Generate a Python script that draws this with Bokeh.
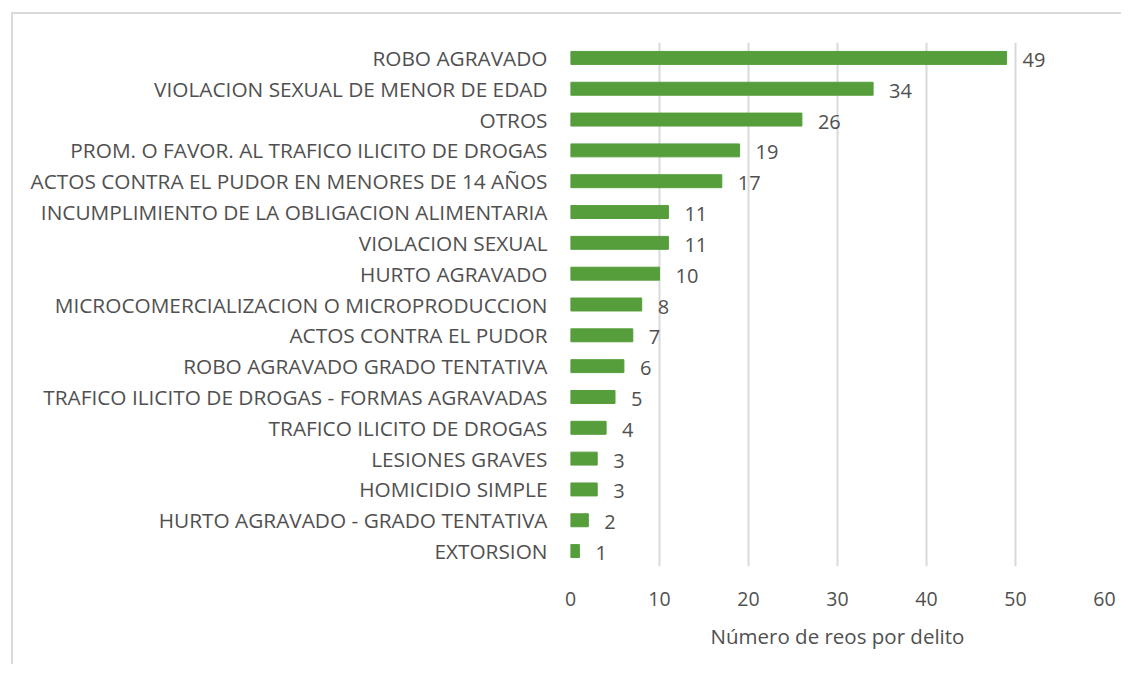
from bokeh.plotting import figure
from bokeh.models import ColumnDataSource, FixedTicker, LabelSet
from bokeh.core.properties import value
from bokeh.embed import file_html
from bokeh.resources import INLINE

categories = ["ROBO AGRAVADO", "VIOLACION SEXUAL DE MENOR DE EDAD", "OTROS",
              "PROM. O FAVOR. AL TRAFICO ILICITO DE DROGAS",
              "ACTOS CONTRA EL PUDOR EN MENORES DE 14 AÑOS",
              "INCUMPLIMIENTO DE LA OBLIGACION ALIMENTARIA",
              "VIOLACION SEXUAL", "HURTO AGRAVADO",
              "MICROCOMERCIALIZACION O MICROPRODUCCION",
              "ACTOS CONTRA EL PUDOR", "ROBO AGRAVADO GRADO TENTATIVA",
              "TRAFICO ILICITO DE DROGAS - FORMAS AGRAVADAS",
              "TRAFICO ILICITO DE DROGAS", "LESIONES GRAVES",
              "HOMICIDIO SIMPLE", "HURTO AGRAVADO - GRADO TENTATIVA", "EXTORSION"]
values = [49, 34, 26, 19, 17, 11, 11, 10, 8, 7, 6, 5, 4, 3, 3, 2, 1]
x_ticks = [0, 10, 20, 30, 40, 50, 60]
x_title = "Número de reos por delito"

FONT = "Open Sans"
GREY = "#505050"

src = ColumnDataSource(dict(cat=categories, val=values,
                            lab=[str(v) for v in values]))

p = figure(width=1110, height=652, y_range=list(reversed(categories)),
           x_range=(0, 60), output_backend="svg", toolbar_location=None,
           min_border_left=557, min_border_right=19, min_border_top=28,
           min_border_bottom=100)
p.styles = {"margin-left": "11px", "margin-top": "12px",
            "border-left": "2px solid #D9D9D9", "border-top": "2px solid #D9D9D9"}
p.outline_line_color = None
p.hbar(y="cat", right="val", height=0.42, source=src, color="#559E3B")

labels = LabelSet(x="val", y="cat", text="lab", source=src, x_offset=16,
                  y_offset=-2, text_align="left", text_baseline="middle",
                  text_font=value(FONT), text_font_size="20px", text_color=GREY)
p.add_layout(labels)

p.xaxis.ticker = FixedTicker(ticks=x_ticks)
p.xaxis.axis_label = x_title
p.xaxis.axis_label_text_font = FONT
p.xaxis.axis_label_text_font_size = "20.5px"
p.xaxis.axis_label_text_font_style = "normal"
p.xaxis.axis_label_text_color = GREY
p.xaxis.axis_label_standoff = 13
p.xaxis.major_label_standoff = 19
for ax in (p.xaxis, p.yaxis):
    ax.axis_line_color = None
    ax.major_tick_line_color = None
    ax.minor_tick_line_color = None
    ax.major_label_text_font = FONT
    ax.major_label_text_color = GREY
p.xaxis.major_label_text_font_size = "19.5px"
p.yaxis.major_label_text_font_size = "20.8px"
p.yaxis.major_label_standoff = 17
p.ygrid.grid_line_color = None
p.xgrid.grid_line_color = "#D9D9D9"
p.xgrid.grid_line_width = 2

open("out.html", "w").write(file_html(p, INLINE))
